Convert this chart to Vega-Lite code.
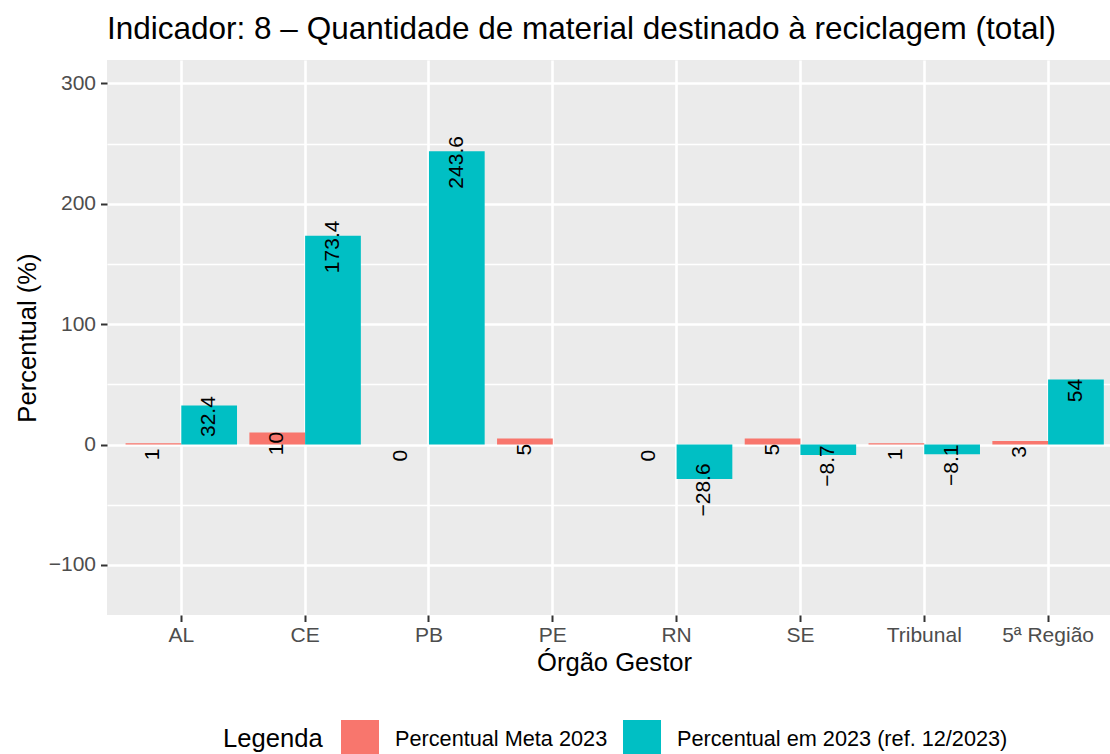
{
  "$schema": "https://vega.github.io/schema/vega-lite/v6.json",
  "autosize": {"type": "none"},
  "width": 1003,
  "height": 555,
  "padding": {"left": 107, "top": 60, "right": 0, "bottom": 139},
  "background": "white",
  "title": {
    "text": "Indicador: 8 – Quantidade de material destinado à reciclagem (total)",
    "anchor": "start",
    "frame": "group",
    "font": "Liberation Sans",
    "fontSize": 31.5,
    "fontWeight": "normal",
    "color": "#000000",
    "baseline": "alphabetic",
    "offset": -10
  },
  "config": {
    "font": "Liberation Sans",
    "view": {"fill": "#EBEBEB", "stroke": null},
    "axis": {"domain": false}
  },
  "data": {
    "values": [
      {"orgao": "AL", "serie": "Percentual Meta 2023", "valor": 1, "rotulo": "1"},
      {"orgao": "AL", "serie": "Percentual em 2023 (ref. 12/2023)", "valor": 32.4, "rotulo": "32.4"},
      {"orgao": "CE", "serie": "Percentual Meta 2023", "valor": 10, "rotulo": "10"},
      {"orgao": "CE", "serie": "Percentual em 2023 (ref. 12/2023)", "valor": 173.4, "rotulo": "173.4"},
      {"orgao": "PB", "serie": "Percentual Meta 2023", "valor": 0, "rotulo": "0"},
      {"orgao": "PB", "serie": "Percentual em 2023 (ref. 12/2023)", "valor": 243.6, "rotulo": "243.6"},
      {"orgao": "PE", "serie": "Percentual Meta 2023", "valor": 5, "rotulo": "5"},
      {"orgao": "RN", "serie": "Percentual Meta 2023", "valor": 0, "rotulo": "0"},
      {"orgao": "RN", "serie": "Percentual em 2023 (ref. 12/2023)", "valor": -28.6, "rotulo": "−28.6"},
      {"orgao": "SE", "serie": "Percentual Meta 2023", "valor": 5, "rotulo": "5"},
      {"orgao": "SE", "serie": "Percentual em 2023 (ref. 12/2023)", "valor": -8.7, "rotulo": "−8.7"},
      {"orgao": "Tribunal", "serie": "Percentual Meta 2023", "valor": 1, "rotulo": "1"},
      {"orgao": "Tribunal", "serie": "Percentual em 2023 (ref. 12/2023)", "valor": -8.1, "rotulo": "−8.1"},
      {"orgao": "5ª Região", "serie": "Percentual Meta 2023", "valor": 3, "rotulo": "3"},
      {"orgao": "5ª Região", "serie": "Percentual em 2023 (ref. 12/2023)", "valor": 54, "rotulo": "54"}
    ]
  },
  "encoding": {
    "x": {
      "field": "orgao",
      "type": "nominal",
      "sort": ["AL", "CE", "PB", "PE", "RN", "SE", "Tribunal", "5ª Região"],
      "scale": {"paddingInner": 0.1, "paddingOuter": 0.1, "align": 0.75},
      "axis": {
        "title": "Órgão Gestor",
        "titleFont": "Liberation Sans",
        "titleFontSize": 25.6,
        "titleFontWeight": "normal",
        "titleColor": "#000000",
        "titleX": 507,
        "titlePadding": 5,
        "labelAngle": 0,
        "labelFont": "Liberation Sans",
        "labelFontSize": 21,
        "labelColor": "#4D4D4D",
        "labelPadding": 3,
        "tickColor": "#333333",
        "tickWidth": 2,
        "tickSize": 6.5,
        "grid": true,
        "gridColor": "#FFFFFF",
        "gridWidth": 2.6,
        "domain": false
      }
    },
    "xOffset": {
      "field": "serie",
      "type": "nominal",
      "scale": {"paddingInner": 0, "paddingOuter": 0}
    },
    "y": {
      "field": "valor",
      "type": "quantitative",
      "scale": {"domain": [-141.6, 319.5], "nice": false, "zero": false},
      "axis": {
        "title": "Percentual (%)",
        "titleFont": "Liberation Sans",
        "titleFontSize": 25.6,
        "titleFontWeight": "normal",
        "titleColor": "#000000",
        "titlePadding": 8,
        "values": [-100, -50, 0, 50, 100, 150, 200, 250, 300],
        "labelExpr": "datum.value % 100 === 0 ? datum.label : ''",
        "labelFont": "Liberation Sans",
        "labelFontSize": 21,
        "labelColor": "#4D4D4D",
        "labelPadding": 5,
        "tickColor": "#333333",
        "tickWidth": 2,
        "tickSize": 6.5,
        "tickOpacity": {"condition": {"test": "datum.value % 100 === 0", "value": 1}, "value": 0},
        "grid": true,
        "gridColor": "#FFFFFF",
        "gridWidth": {"condition": {"test": "datum.value % 100 === 0", "value": 2.6}, "value": 1.3},
        "domain": false
      }
    }
  },
  "layer": [
    {
      "mark": {"type": "bar"},
      "encoding": {
        "color": {
          "field": "serie",
          "type": "nominal",
          "scale": {
            "domain": ["Percentual Meta 2023", "Percentual em 2023 (ref. 12/2023)"],
            "range": ["#F8766D", "#00BFC4"]
          },
          "legend": {
            "orient": "none",
            "direction": "horizontal",
            "legendX": 116,
            "legendY": 660,
            "title": "Legenda",
            "titleOrient": "left",
            "titleFont": "Liberation Sans",
            "titleFontSize": 25.6,
            "titleFontWeight": "normal",
            "titleColor": "#000000",
            "titleBaseline": "middle",
            "titlePadding": 18,
            "labelFont": "Liberation Sans",
            "labelFontSize": 21.7,
            "labelColor": "#000000",
            "labelLimit": 0,
            "labelOffset": 16,
            "symbolType": "square",
            "symbolSize": 1444,
            "symbolStrokeWidth": 0,
            "symbolOpacity": 1,
            "columnPadding": 15
          }
        }
      }
    },
    {
      "mark": {
        "type": "text",
        "angle": 270,
        "align": "center",
        "baseline": "middle",
        "dx": -11,
        "font": "Liberation Sans",
        "fontSize": 21,
        "color": "#000000"
      },
      "encoding": {
        "text": {"field": "rotulo", "type": "nominal"}
      }
    }
  ]
}
